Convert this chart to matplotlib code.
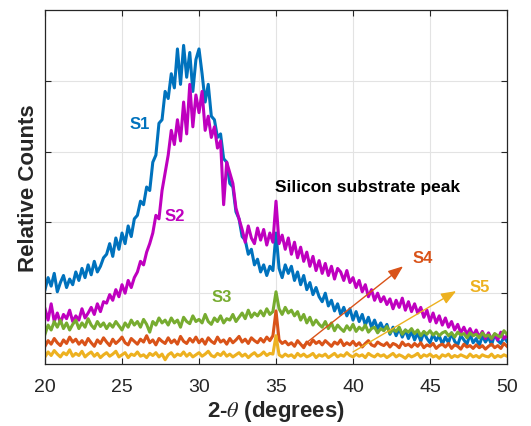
import numpy as np
import matplotlib
matplotlib.use("Agg")
import matplotlib.pyplot as plt

plt.rcParams['font.family'] = ['Liberation Sans', 'DejaVu Sans']
plt.rcParams['mathtext.fontset'] = 'stix'

# 2-theta scan, 0.2 degree steps from 20 to 50
two_theta = np.linspace(20, 50, 151)

s1 = [1.05, 1.22, 1.10, 1.28, 1.02, 1.15, 1.25, 1.08, 1.20, 1.12,
      1.30, 1.18, 1.35, 1.22, 1.40, 1.26, 1.45, 1.30, 1.38, 1.50,
      1.55, 1.70, 1.52, 1.78, 1.62, 1.85, 1.70, 1.95, 1.80, 2.05,
      2.10, 2.30, 2.25, 2.50, 2.45, 2.85, 2.95, 3.40, 3.45, 3.85,
      3.75, 4.10, 3.90, 4.45, 3.95, 4.50, 4.05, 4.40, 3.85, 4.30,
      4.45, 4.10, 3.70, 3.95, 3.50, 3.45, 3.20, 3.25, 2.90, 2.85,
      2.55, 2.50, 2.15, 2.05, 1.80, 1.75, 1.55, 1.62, 1.40, 1.48,
      1.30, 1.40, 1.25, 1.38, 1.32, 1.85, 1.35, 1.22, 1.40, 1.28,
      1.38, 1.18, 1.30, 1.12, 1.25, 1.05, 1.15, 0.98, 1.08, 0.95,
      0.88, 1.00, 0.82, 0.90, 0.75, 0.85, 0.70, 0.80, 0.68, 0.78,
      0.62, 0.74, 0.60, 0.70, 0.55, 0.66, 0.52, 0.62, 0.50, 0.58,
      0.48, 0.56, 0.42, 0.52, 0.40, 0.50, 0.38, 0.48, 0.36, 0.46,
      0.34, 0.44, 0.32, 0.45, 0.36, 0.30, 0.42, 0.33, 0.40, 0.28,
      0.38, 0.30, 0.44, 0.32, 0.27, 0.40, 0.34, 0.28, 0.42, 0.30,
      0.36, 0.26, 0.40, 0.31, 0.38, 0.27, 0.42, 0.33, 0.29, 0.38,
      0.32]

s2 = [0.78, 0.62, 0.85, 0.60, 0.72, 0.58, 0.70, 0.64, 0.76, 0.60,
      0.68, 0.62, 0.78, 0.65, 0.72, 0.80, 0.70, 0.85, 0.74, 0.88,
      0.86, 0.98, 0.90, 1.05, 0.95, 1.12, 1.00, 1.18, 1.08, 1.22,
      1.30, 1.45, 1.40, 1.58, 1.70, 1.85, 2.10, 2.05, 2.45, 2.70,
      2.95, 3.30, 3.10, 3.45, 3.15, 3.70, 3.25, 3.95, 3.35, 3.80,
      3.55, 3.85, 3.30, 3.50, 3.20, 3.35, 3.05, 3.15, 2.25, 2.85,
      2.70, 2.55, 2.20, 2.05, 1.90, 1.72, 1.95, 1.78, 1.70, 1.92,
      1.75, 1.90, 1.68, 1.85, 1.72, 2.30, 1.70, 1.82, 1.62, 1.78,
      1.55, 1.72, 1.50, 1.65, 1.45, 1.58, 1.38, 1.52, 1.32, 1.46,
      1.28, 1.42, 1.25, 1.38, 1.20, 1.35, 1.30, 1.18, 1.32, 1.15,
      1.22, 1.08, 1.18, 1.02, 1.12, 0.95, 1.05, 0.90, 1.00, 0.88,
      0.95, 0.84, 0.92, 0.78, 0.90, 0.80, 0.93, 0.76, 0.88, 0.74,
      0.85, 0.72, 0.80, 0.66, 0.76, 0.60, 0.72, 0.58, 0.68, 0.55,
      0.65, 0.52, 0.60, 0.48, 0.56, 0.44, 0.52, 0.42, 0.50, 0.40,
      0.48, 0.38, 0.46, 0.36, 0.44, 0.35, 0.42, 0.34, 0.45, 0.36,
      0.40]

s3 = [0.42, 0.55, 0.48, 0.60, 0.52, 0.62, 0.50, 0.58, 0.48, 0.56,
      0.62, 0.50, 0.58, 0.52, 0.64, 0.55, 0.50, 0.60, 0.53, 0.58,
      0.50, 0.57, 0.52, 0.60, 0.54, 0.48, 0.58, 0.52, 0.62, 0.55,
      0.60, 0.52, 0.63, 0.56, 0.45, 0.60, 0.55, 0.65, 0.58, 0.62,
      0.55, 0.65, 0.58, 0.62, 0.52, 0.66, 0.60, 0.57, 0.68, 0.60,
      0.63, 0.58, 0.70, 0.60, 0.56, 0.65, 0.60, 0.68, 0.58, 0.64,
      0.62, 0.70, 0.60, 0.66, 0.72, 0.64, 0.76, 0.66, 0.72, 0.68,
      0.75, 0.68, 0.78, 0.70, 0.74, 1.02, 0.78, 0.70, 0.80, 0.72,
      0.76, 0.68, 0.74, 0.62, 0.70, 0.58, 0.66, 0.55, 0.62, 0.56,
      0.52, 0.60, 0.50, 0.58, 0.47, 0.55, 0.50, 0.46, 0.54, 0.48,
      0.56, 0.46, 0.52, 0.48, 0.55, 0.45, 0.50, 0.52, 0.44, 0.50,
      0.47, 0.53, 0.44, 0.49, 0.46, 0.52, 0.42, 0.48, 0.45, 0.50,
      0.43, 0.48, 0.40, 0.46, 0.42, 0.47, 0.41, 0.45, 0.40, 0.44,
      0.46, 0.40, 0.44, 0.38, 0.45, 0.41, 0.43, 0.37, 0.44, 0.40,
      0.42, 0.37, 0.44, 0.39, 0.41, 0.36, 0.43, 0.40, 0.38, 0.47,
      0.42]

s4 = [0.25, 0.33, 0.28, 0.36, 0.30, 0.26, 0.34, 0.29, 0.38, 0.31,
      0.35, 0.28, 0.33, 0.27, 0.36, 0.30, 0.25, 0.34, 0.29, 0.37,
      0.31, 0.26, 0.35, 0.29, 0.33, 0.38, 0.30, 0.27, 0.36, 0.32,
      0.28, 0.35, 0.31, 0.40, 0.30, 0.34, 0.27, 0.36, 0.32, 0.29,
      0.37, 0.30, 0.34, 0.28, 0.39, 0.32, 0.29, 0.36, 0.31, 0.38,
      0.30, 0.35, 0.28, 0.37, 0.32, 0.29, 0.38, 0.31, 0.34, 0.28,
      0.36, 0.30, 0.34, 0.39, 0.31, 0.35, 0.29, 0.37, 0.33, 0.30,
      0.36, 0.31, 0.38, 0.33, 0.40, 0.75, 0.34, 0.29, 0.32, 0.27,
      0.30, 0.25, 0.33, 0.28, 0.23, 0.31, 0.27, 0.34, 0.29, 0.32,
      0.27, 0.33, 0.29, 0.25, 0.31, 0.28, 0.34, 0.26, 0.30, 0.27,
      0.32, 0.26, 0.30, 0.24, 0.29, 0.33, 0.27, 0.25, 0.31, 0.28,
      0.26, 0.30, 0.24, 0.29, 0.27, 0.23, 0.31, 0.26, 0.28, 0.24,
      0.29, 0.25, 0.30, 0.23, 0.27, 0.25, 0.29, 0.22, 0.26, 0.28,
      0.24, 0.29, 0.22, 0.27, 0.25, 0.21, 0.28, 0.24, 0.26, 0.22,
      0.27, 0.23, 0.26, 0.21, 0.25, 0.28, 0.23, 0.26, 0.22, 0.29,
      0.25]

s5 = [0.10, 0.17, 0.12, 0.19, 0.14, 0.10, 0.16, 0.13, 0.20, 0.11,
      0.15, 0.12, 0.18, 0.10, 0.14, 0.17, 0.11, 0.15, 0.09, 0.13,
      0.16, 0.11, 0.14, 0.18, 0.10, 0.13, 0.16, 0.09, 0.14, 0.12,
      0.17, 0.11, 0.13, 0.09, 0.15, 0.12, 0.16, 0.10, 0.14, 0.06,
      0.13, 0.16, 0.10, 0.14, 0.12, 0.17, 0.11, 0.15, 0.10, 0.13,
      0.16, 0.11, 0.14, 0.18, 0.12, 0.10, 0.15, 0.12, 0.17, 0.11,
      0.14, 0.10, 0.13, 0.16, 0.11, 0.14, 0.09, 0.13, 0.16, 0.11,
      0.13, 0.17, 0.12, 0.15, 0.14, 0.40, 0.13, 0.10, 0.14, 0.11,
      0.13, 0.09, 0.15, 0.11, 0.14, 0.10, 0.12, 0.15, 0.09, 0.13,
      0.11, 0.14, 0.09, 0.12, 0.15, 0.10, 0.13, 0.11, 0.16, 0.12,
      0.10, 0.14, 0.11, 0.13, 0.09, 0.15, 0.12, 0.10, 0.14, 0.11,
      0.13, 0.09, 0.12, 0.15, 0.10, 0.13, 0.11, 0.08, 0.13, 0.10,
      0.12, 0.15, 0.09, 0.13, 0.11, 0.14, 0.10, 0.12, 0.08, 0.13,
      0.11, 0.14, 0.09, 0.12, 0.10, 0.13, 0.11, 0.09, 0.14, 0.10,
      0.12, 0.09, 0.13, 0.11, 0.10, 0.14, 0.09, 0.12, 0.10, 0.13,
      0.11]

series = [s1, s2, s3, s4, s5]
names = ["S1", "S2", "S3", "S4", "S5"]
colors = ["#0072BD", "#BF00BF", "#77AC30", "#D95319", "#EDB120"]

fig = plt.figure(figsize=(5.31, 4.27), dpi=100)
ax = fig.add_axes([45/531, 1 - 365/427, 462/531, 354/427])

for ys, c in zip(series, colors):
    ax.plot(two_theta, ys, color=c, lw=2.2)

ax.set_xlim(20, 50)
ax.set_ylim(0, 5)
ax.set_xticks([20, 25, 30, 35, 40, 45, 50])
ax.set_yticks([1, 2, 3, 4])
ax.set_yticklabels([])
ax.grid(True, color="#e3e3e3", lw=0.8)
ax.set_axisbelow(True)
ax.tick_params(direction="in", top=True, right=True, length=4,
               width=0.8, labelsize=14, colors="#262626", pad=10)
for sp in ax.spines.values():
    sp.set_color("#262626")
    sp.set_linewidth(0.9)

ax.set_xlabel(r"2-$\theta$ (degrees)", fontsize=16, fontweight="bold",
              color="#262626", labelpad=2)
ax.set_ylabel("Relative Counts", fontsize=16, fontweight="bold",
              color="#262626", labelpad=-6)

# sample labels
label_pos = [(26.17, 3.40), (28.44, 2.10), (31.49, 0.96), (44.55, 1.50), (48.25, 1.09)]
for name, c, (tx, ty) in zip(names, colors, label_pos):
    ax.text(tx, ty, name, color=c, fontsize=12, fontweight="bold", ha="center", va="center")
ax.text(34.94, 2.50, "Silicon substrate peak", color="black", fontsize=12.5,
        fontweight="bold", ha="left", va="center")

ax.annotate("", xy=(43.25, 1.38), xytext=(36.69, 0.25),
            arrowprops=dict(arrowstyle="-|>,head_length=0.9,head_width=0.35",
                            color=colors[3], lw=1.0, shrinkA=0, shrinkB=0))
ax.annotate("", xy=(46.7, 1.03), xytext=(40.0, 0.17),
            arrowprops=dict(arrowstyle="-|>,head_length=0.9,head_width=0.35",
                            color=colors[4], lw=1.0, shrinkA=0, shrinkB=0))

fig.savefig("out.png", dpi=100)
